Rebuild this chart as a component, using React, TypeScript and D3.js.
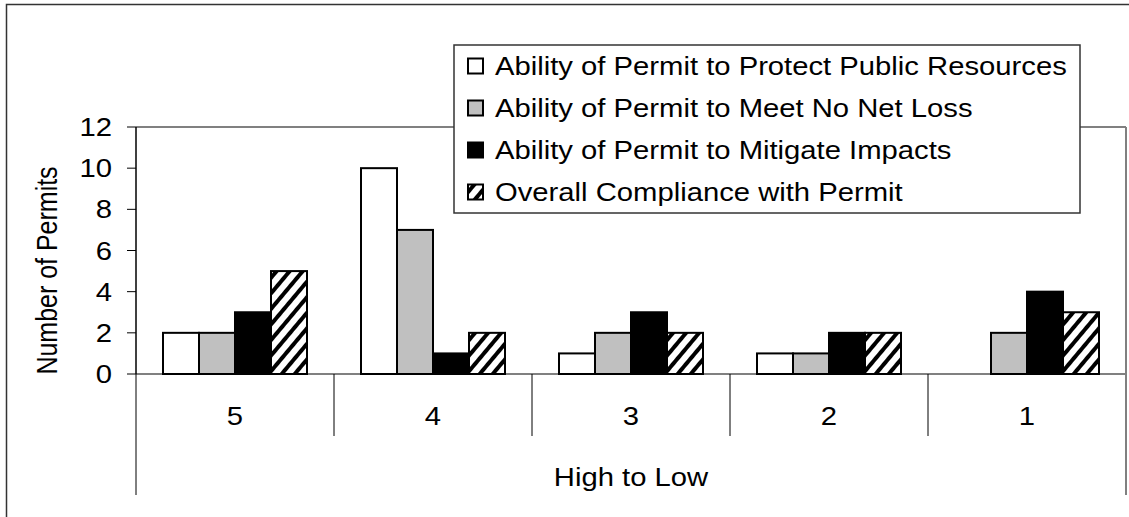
import React from "react";
import * as d3 from "d3";

const categories = ["5", "4", "3", "2", "1"];
const seriesNames = [
  "Ability of Permit to Protect Public Resources",
  "Ability of Permit to Meet No Net Loss",
  "Ability of Permit to Mitigate Impacts",
  "Overall Compliance with Permit",
];
const protectValues = [2, 10, 1, 1, 0];
const noNetLossValues = [2, 7, 2, 1, 2];
const mitigateValues = [3, 1, 3, 2, 4];
const overallValues = [5, 2, 2, 2, 3];
const yTicks = [0, 2, 4, 6, 8, 10, 12];
const xTitle = "High to Low";
const yTitle = "Number of Permits";

const W = 1129;
const H = 517;
const FONT = "'Liberation Sans', Arial, sans-serif";
const FS = 25;
const SX = 1.17;

export default function App() {
  const plotL = 136;
  const plotR = 1126;
  const plotT = 127;
  const plotB = 374;

  const series = [protectValues, noNetLossValues, mitigateValues, overallValues];
  const fills = ["#FFFFFF", "#C0C0C0", "#000000", "url(#hatch)"];

  const x0 = d3.scaleBand<string>().domain(categories).range([plotL, plotR]).paddingInner(0).paddingOuter(0);
  const groupW = x0.bandwidth();
  const barW = groupW / (4 + 1.5);
  const x1 = d3
    .scaleBand<number>()
    .domain([0, 1, 2, 3])
    .range([(groupW - 4 * barW) / 2, (groupW + 4 * barW) / 2]);
  const y = d3.scaleLinear().domain([0, 12]).range([plotB, plotT]);

  const hText = (x: number, yy: number, s: string, anchor: string, key?: string) => (
    <text
      key={key}
      transform={`translate(${x},${yy}) scale(${SX},1)`}
      textAnchor={anchor}
      fontFamily={FONT}
      fontSize={FS}
      fill="#000"
    >
      {s}
    </text>
  );

  const legendX = 454;
  const legendY = 45;
  const legendW = 626;
  const legendH = 168;
  const rowH = 42;

  return (
    <div style={{ position: "absolute", left: 0, top: 0 }}>
      <svg width={W} height={H} style={{ display: "block", background: "#fff" }}>
        <defs>
          <pattern id="hatch" patternUnits="userSpaceOnUse" width="10" height="10" patternTransform="rotate(40)">
            <rect width="10" height="10" fill="#fff" />
            <rect x="0" y="0" width="4" height="10" fill="#000" />
          </pattern>
        </defs>

        {/* outer chart frame */}
        <rect x={6.5} y={4.5} width={W + 20} height={H + 20} fill="none" stroke="#333" strokeWidth={1.5} />

        {/* plot area border (gray) */}
        <line x1={plotL} x2={plotR} y1={plotT} y2={plotT} stroke="#808080" strokeWidth={2} />
        <line x1={plotR} x2={plotR} y1={plotT} y2={plotB} stroke="#808080" strokeWidth={2} />
        <line x1={plotL} x2={plotR} y1={plotB} y2={plotB} stroke="#808080" strokeWidth={2} />

        {/* bars */}
        {categories.map((c, ci) => (
          <g key={c} transform={`translate(${x0(c)},0)`}>
            {series.map((vals, si) =>
              vals[ci] > 0 ? (
                <rect
                  key={si}
                  x={x1(si)}
                  y={y(vals[ci])}
                  width={barW}
                  height={y(0) - y(vals[ci])}
                  fill={fills[si]}
                  stroke="#000"
                  strokeWidth={2}
                />
              ) : null
            )}
          </g>
        ))}

        {/* y axis */}
        <line x1={plotL} x2={plotL} y1={plotT} y2={plotB} stroke="#000" strokeWidth={1.5} />
        {yTicks.map((t) => (
          <g key={t}>
            <line x1={plotL - 9} x2={plotL} y1={y(t)} y2={y(t)} stroke="#000" strokeWidth={1} />
            {hText(112, y(t) + 9, String(t), "end")}
          </g>
        ))}

        {/* category axis (multi-level) */}
        {categories.map((c, i) => (
          <line
            key={"d" + i}
            x1={x0(c)!}
            x2={x0(c)!}
            y1={plotB}
            y2={i === 0 ? 495 : 436}
            stroke="#000"
            strokeWidth={1}
          />
        ))}
        <line x1={plotR} x2={plotR} y1={plotB} y2={495} stroke="#808080" strokeWidth={2} />
        {categories.map((c) => hText(x0(c)! + groupW / 2, 425, c, "middle", "l" + c))}
        {hText((plotL + plotR) / 2, 486, xTitle, "middle")}

        {/* y title */}
        <text
          transform={`translate(57,${(plotT + plotB) / 2 + 20}) scale(${SX},1) rotate(-90)`}
          textAnchor="middle"
          fontFamily={FONT}
          fontSize={FS}
          fill="#000"
        >
          {yTitle}
        </text>

        {/* legend */}
        <rect x={legendX} y={legendY} width={legendW} height={legendH} fill="#fff" stroke="#333" strokeWidth={1.5} />
        {seriesNames.map((n, i) => {
          const cy = legendY + 21 + i * rowH;
          return (
            <g key={n}>
              <rect x={468} y={cy - 7.5} width={15} height={15} fill={fills[i]} stroke="#000" strokeWidth={2} />
              {hText(495, cy + 9, n, "start")}
            </g>
          );
        })}
      </svg>
    </div>
  );
}
